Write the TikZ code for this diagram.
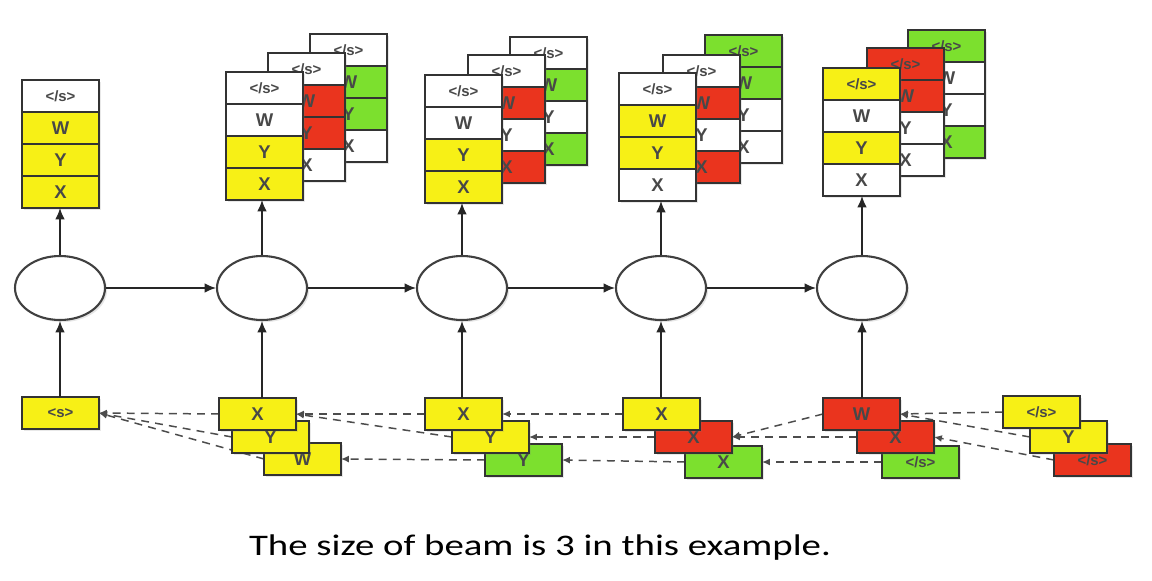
\documentclass[tikz,border=0pt]{standalone}
\usepackage{fontspec}
\setmainfont{Carlito}
\setsansfont{Liberation Sans}
\newfontfamily\captionfont[FakeStretch=1.3]{Carlito}
\usetikzlibrary{arrows.meta, positioning, shapes.geometric, shadows, backgrounds}

\definecolor{beamyellow}{RGB}{247,240,22}
\definecolor{beamred}{RGB}{234,52,30}
\definecolor{beamgreen}{RGB}{124,224,46}
\definecolor{wordgray}{RGB}{72,72,72}

\newcommand{\eos}{{\fontsize{8.5}{9}\selectfont </s>}}
\newcommand{\bos}{{\fontsize{8.5}{9}\selectfont <s>}}

\begin{document}
\begin{tikzpicture}[
  x=0.02cm, y=-0.02cm,
  cell/.style={draw=black!80, line width=1.1pt, minimum width=1.54cm, minimum height=0.64cm,
    inner sep=0pt, outer sep=0pt, font=\sffamily\bfseries\fontsize{10.5}{12}\selectfont, text=wordgray,
    drop shadow={opacity=0.18, shadow xshift=1.2pt, shadow yshift=-1.2pt}},
  rnn/.style={ellipse, draw=black!75, line width=1.2pt, fill=white, minimum width=1.8cm,
    minimum height=1.28cm, drop shadow={opacity=0.2, shadow xshift=1.2pt, shadow yshift=-1.2pt}},
  flow/.style={-{Latex[length=6.5pt, width=5.5pt]}, line width=0.9pt, black!85},
  backptr/.style={-{Latex[length=4.5pt, width=4pt]}, line width=0.85pt, black!70,
    dash pattern=on 4.5pt off 3.5pt}
]
  \useasboundingbox (0,0) rectangle (1152,581);

  % output stacks, back to front
  \foreach \nm/\x/\y/\ca/\cb/\cc/\cd in {
      s1/22/80/white/beamyellow/beamyellow/beamyellow,
      s2c/310/34/white/beamgreen/beamgreen/white,
      s2b/268/53/white/beamred/beamred/white,
      s2a/226/72/white/white/beamyellow/beamyellow,
      s3c/510/37/white/beamgreen/white/beamgreen,
      s3b/468/55/white/beamred/white/beamred,
      s3a/425/75/white/white/beamyellow/beamyellow,
      s4c/705/35/beamgreen/beamgreen/white/white,
      s4b/663/55/white/beamred/white/beamred,
      s4a/619/73/white/beamyellow/beamyellow/white,
      s5c/908/30/beamgreen/white/white/beamgreen,
      s5b/867/48/beamred/beamred/white/white,
      s5a/823/68/beamyellow/white/beamyellow/white} {
    \node[cell, fill=\ca] (\nm-e) at (\x+38.5, \y+16) {\eos};
    \node[cell, fill=\cb, below=0pt of \nm-e] (\nm-w) {W};
    \node[cell, fill=\cc, below=0pt of \nm-w] (\nm-y) {Y};
    \node[cell, fill=\cd, below=0pt of \nm-y] (\nm-x) {X};
  }

  % hidden states
  \foreach \i/\x in {1/60, 2/262, 3/462, 4/661, 5/862}
    \node[rnn] (h\i) at (\x, 288) {};

  % input candidates, back to front
  \foreach \nm/\x/\y/\c/\w in {
      in1/22/397/beamyellow/\bos,
      in2c/264/443/beamyellow/W, in2b/232/421/beamyellow/Y, in2a/219/398/beamyellow/X,
      in3c/485/444/beamgreen/Y, in3b/452/421/beamyellow/Y, in3a/425/398/beamyellow/X,
      in4c/685/446/beamgreen/X, in4b/655/421/beamred/X, in4a/623/398/beamyellow/X,
      in5c/882/446/beamgreen/\eos, in5b/857/421/beamred/X, in5a/823/398/beamred/W,
      in6c/1054/444/beamred/\eos, in6b/1030/421/beamyellow/Y, in6a/1003/396/beamyellow/\eos} {
    \node[cell, fill=\c] (\nm) at (\x+38.5, \y+16) {\w};
  }

  % recurrence
  \foreach \i/\j in {1/2, 2/3, 3/4, 4/5}
    \draw[flow] (h\i) -- (h\j);

  % inputs up, outputs up
  \draw[flow] (h1 |- in1.north) -- (h1.south);
  \draw[flow] (h1.north) -- (h1 |- s1-x.south);
  \foreach \i/\s in {2/s2a, 3/s3a, 4/s4a, 5/s5a} {
    \draw[flow] (h\i |- in\i a.north) -- (h\i.south);
    \draw[flow] (h\i.north) -- (h\i |- \s-x.south);
  }

  % back pointers
  \begin{scope}[on background layer]
    \draw[backptr] (in2a.west) -- (in1.east);
    \draw[backptr] (in2b.west) -- (in1.east);
    \draw[backptr] (in2c.west) -- (in1.east);
    \draw[backptr] (in3a.west) -- (in2a.east);
    \draw[backptr] (in3b.west) -- (in2a.east);
    \draw[backptr] (in3c.west) -- (in2c.east);
    \draw[backptr] (in4a.west) -- (in3a.east);
    \draw[backptr] (in4b.west) -- (in3b.east);
    \draw[backptr] (in4c.west) -- (in3c.east);
    \draw[backptr] (in5a.west) -- (in4b.east);
    \draw[backptr] (in5b.west) -- (in4b.east);
    \draw[backptr] (in5c.west) -- (in4c.east);
    \draw[backptr] (in6a.west) -- (in5a.east);
    \draw[backptr] (in6b.west) -- (in5a.east);
    \draw[backptr] (in6c.west) -- (in5b.east);
  \end{scope}

  \node[font=\captionfont\fontsize{17}{20}\selectfont] (caption) at (540, 548)
    {The size of beam is 3 in this example.};
\end{tikzpicture}
\end{document}
